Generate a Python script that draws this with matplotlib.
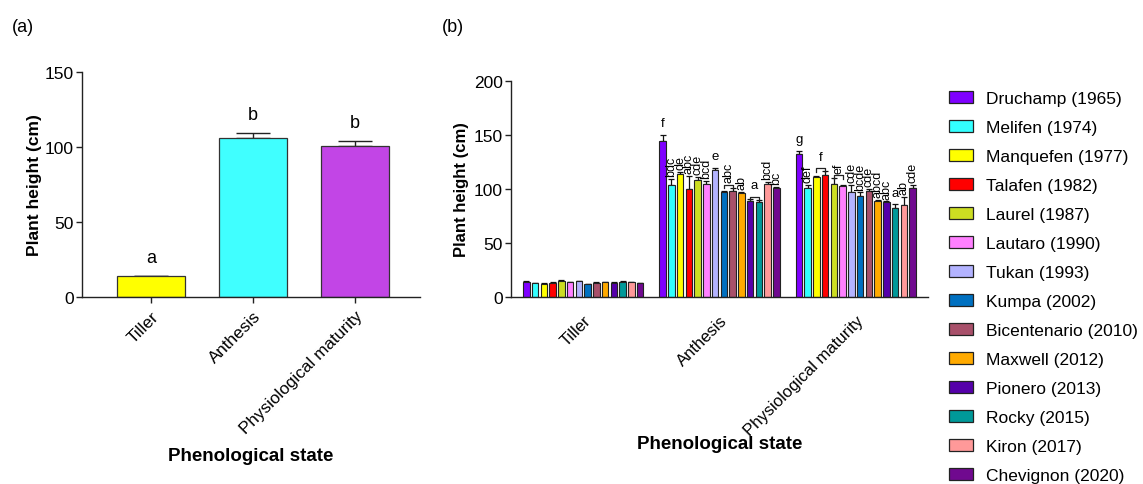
import numpy as np
import matplotlib
matplotlib.use('Agg')
import matplotlib.pyplot as plt
from matplotlib.patches import Patch

plt.rcParams['font.family'] = ['Liberation Sans', 'DejaVu Sans']

# phenological states
stages = ['Tiller', 'Anthesis', 'Physiological maturity']

# (a) mean plant height across all cultivars
stage_mean = [13.7, 105.7, 100.6]
stage_err = [0.3, 3.7, 3.5]
stage_letters = ['a', 'b', 'b']
stage_colors = ['#FFFF00', '#40FFFF', '#C245E6']

# (b) plant height per cultivar
cultivars = ['Druchamp (1965)', 'Melifen (1974)', 'Manquefen (1977)', 'Talafen (1982)',
             'Laurel (1987)', 'Lautaro (1990)', 'Tukan (1993)', 'Kumpa (2002)',
             'Bicentenario (2010)', 'Maxwell (2012)', 'Pionero (2013)', 'Rocky (2015)',
             'Kiron (2017)', 'Chevignon (2020)']
cultivar_colors = ['#7F00FF', '#33FFFF', '#FFFF00', '#FF0000', '#CCDD22', '#FF80FF',
                   '#B3B3FF', '#0070C0', '#A8506A', '#FFAA00', '#5500AA', '#009999',
                   '#FF9999', '#70098F']

tiller_mean = [13.6, 12.7, 12.3, 13.3, 14.5, 13.6, 14.6, 12.0, 13.3, 13.6, 13.3, 14.2, 13.9, 13.0]
tiller_err = [1.2, 0.5, 0.5, 0.5, 0.8, 0.6, 0.6, 0.4, 0.5, 0.6, 0.6, 0.4, 0.4, 0.4]

anthesis_mean = [144, 104, 114, 100, 108, 105, 118, 97, 98, 96, 89, 88, 105, 101]
anthesis_err = [6, 5, 2, 12, 3, 2.5, 1.5, 1.5, 3, 1, 1.5, 1.5, 1.5, 1]

maturity_mean = [132, 100.6, 111, 113, 104.6, 102.5, 97.5, 93.8, 98, 89, 88, 82.4, 85, 101]
maturity_err = [3.5, 3, 1, 3.5, 5.5, 1.5, 6, 3, 2, 1, 0.5, 3.5, 8, 2.5]

# significance letters: (text, cultivar indices sharing it)
anthesis_letters = [('f', [0]), ('bdc', [1]), ('de', [2]), ('abc', [3]), ('cde', [4]),
                    ('bcd', [5]), ('e', [6]), ('abc', [7, 8]), ('ab', [9]), ('a', [10, 11]),
                    ('bcd', [12]), ('bc', [13])]
maturity_letters = [('g', [0]), ('def', [1]), ('f', [2, 3]), ('ef', [4, 5]), ('cde', [6]),
                    ('bcde', [7]), ('cde', [8]), ('abcd', [9]), ('abc', [10]), ('a', [11]),
                    ('ab', [12]), ('cde', [13])]

fig = plt.figure(figsize=(11.43, 4.85), dpi=100)
ax1 = fig.add_axes([0.0717, 0.3856, 0.2957, 0.4645])
ax2 = fig.add_axes([0.4471, 0.3856, 0.3648, 0.4454])

axis_color = '#222222'
for ax in (ax1, ax2):
    for s in ('top', 'right'):
        ax.spines[s].set_visible(False)
    for s in ('left', 'bottom'):
        ax.spines[s].set_color(axis_color)
        ax.spines[s].set_linewidth(1.0)
    ax.tick_params(axis='y', length=4, width=1.0, color=axis_color, labelsize=12.5, pad=2)

# ---- panel (a)
x1 = np.arange(len(stages))
ax1.bar(x1, stage_mean, width=0.667, color=stage_colors, edgecolor='#333333',
        linewidth=0.9, zorder=2)
ax1.errorbar(x1, stage_mean, yerr=[np.zeros(3), stage_err], fmt='none',
             ecolor='#222222', elinewidth=1.0, capsize=12, capthick=1.0, zorder=1)
for xi, m, e, lab in zip(x1, stage_mean, stage_err, stage_letters):
    ax1.annotate(lab, (xi, m + e), xytext=(0, 7), textcoords='offset points',
                 ha='center', va='bottom', fontsize=13)
ax1.set_xlim(-0.68, 2.64)
ax1.set_ylim(0, 150)
ax1.set_yticks([0, 50, 100, 150])
ax1.set_xticks(x1)
ax1.set_xticklabels(stages, rotation=45, ha='right', rotation_mode='anchor', fontsize=12.3)
ax1.tick_params(axis='x', length=4, width=1.0, color=axis_color, pad=4)
ax1.set_ylabel('Plant height (cm)', fontsize=12.5, fontweight='bold')
ax1.yaxis.set_label_coords(-0.118, 0.5)
ax1.set_xlabel('Phenological state', fontsize=13.5, fontweight='bold')
ax1.xaxis.set_label_coords(0.5, -0.668)

# ---- panel (b)
n = len(cultivars)
slot = 0.0641
bw = 0.048
offsets = (np.arange(n) - (n - 1) / 2) * slot
groups = [(tiller_mean, tiller_err, None),
          (anthesis_mean, anthesis_err, anthesis_letters),
          (maturity_mean, maturity_err, maturity_letters)]

for g, (means, errs, letters) in enumerate(groups):
    xs = g + offsets
    ax2.bar(xs, means, width=bw, color=cultivar_colors, edgecolor='#222222',
            linewidth=0.8, zorder=2)
    ax2.errorbar(xs, means, yerr=[np.zeros(n), errs], fmt='none', ecolor='#111111',
                 elinewidth=0.9, capsize=2.2, capthick=0.9, zorder=1)
    if letters is None:
        continue
    tops = np.array(means) + np.array(errs)
    for text, idx in letters:
        top = tops[idx].max()
        xc = xs[idx].mean()
        if len(idx) > 1:
            # bracket over cultivars sharing the same letter
            yb = top + 2.5
            ax2.plot([xs[idx[0]], xs[idx[0]], xs[idx[-1]], xs[idx[-1]]],
                     [yb - 3, yb, yb, yb - 3], color='#222222', lw=0.9, zorder=3)
            top = yb
        if len(text) == 1:
            ax2.annotate(text, (xc, top), xytext=(0, 4), textcoords='offset points',
                         ha='center', va='bottom', fontsize=9.5)
        else:
            ax2.annotate(text, (xc, top), xytext=(0, 2), textcoords='offset points',
                         ha='center', va='bottom', rotation=90, fontsize=9)

ax2.set_xlim(-0.53, 2.53)
ax2.set_ylim(0, 200)
ax2.set_yticks([0, 50, 100, 150, 200])
ax2.set_xticks(range(3))
ax2.set_xticklabels(stages, rotation=45, ha='right', rotation_mode='anchor', fontsize=12)
ax2.tick_params(axis='x', length=0, pad=11)
ax2.set_ylabel('Plant height (cm)', fontsize=12, fontweight='bold')
ax2.yaxis.set_label_coords(-0.1, 0.5)
ax2.set_xlabel('Phenological state', fontsize=13.5, fontweight='bold')
ax2.xaxis.set_label_coords(0.5, -0.639)

handles = [Patch(facecolor=c, edgecolor='#222222', linewidth=0.9) for c in cultivar_colors]
fig.legend(handles, cultivars, loc='upper left', bbox_to_anchor=(0.8303, 0.811),
           frameon=False, fontsize=12.5, borderpad=0, borderaxespad=0,
           handlelength=1.38, handleheight=0.7, handletextpad=0.75, labelspacing=0.8)

fig.text(12 / 1143, 1 - 28 / 485, '(a)', fontsize=13, va='center')
fig.text(442 / 1143, 1 - 28 / 485, '(b)', fontsize=13, va='center')

fig.savefig('out.png', dpi=100)
